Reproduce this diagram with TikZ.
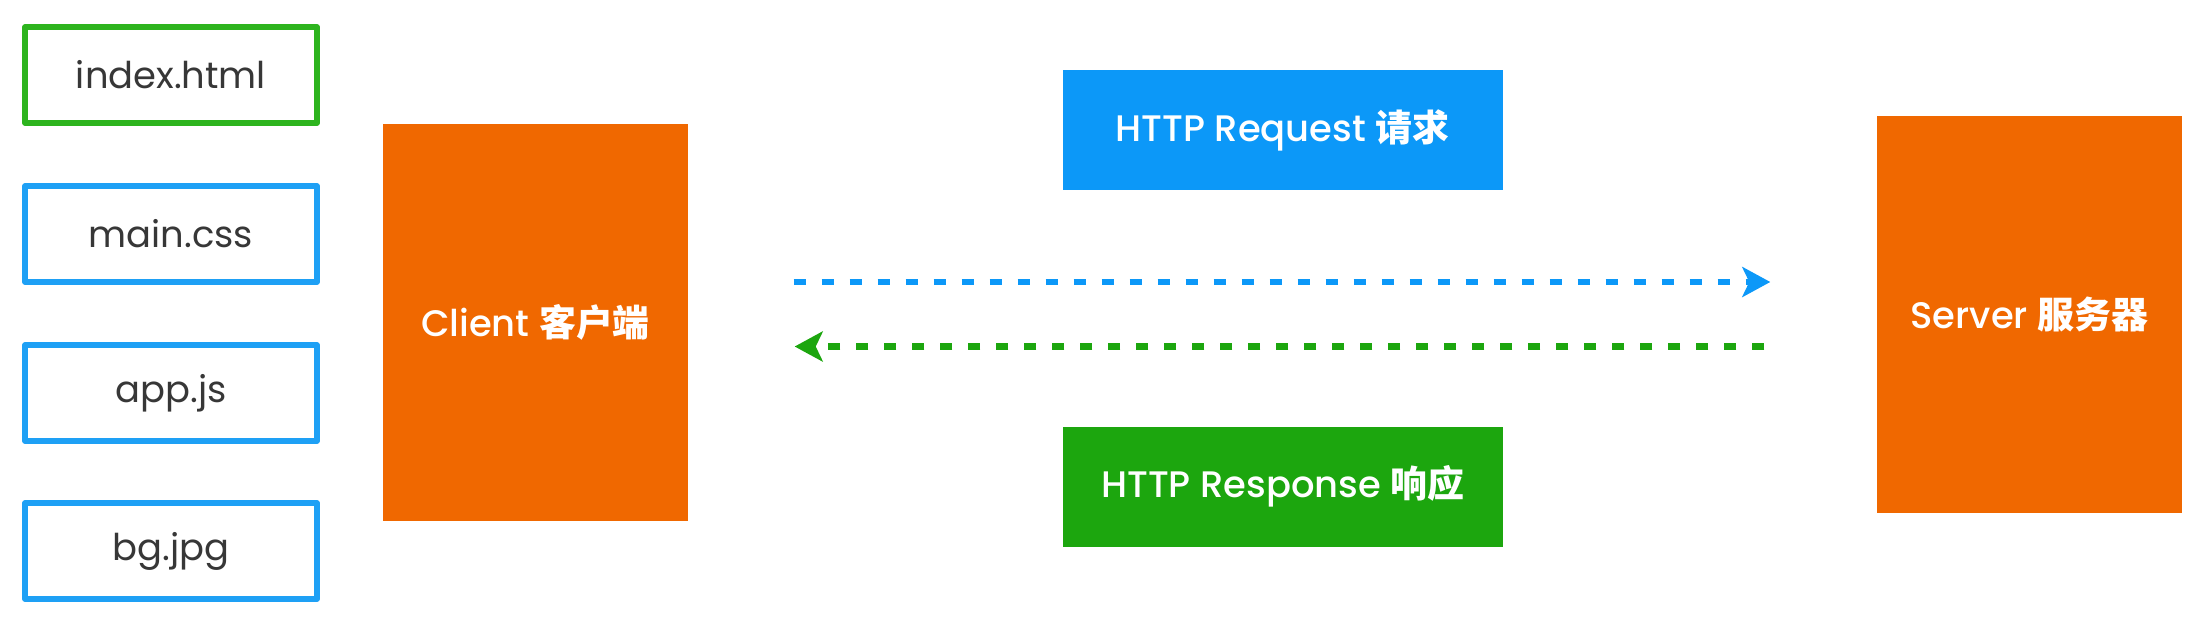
\documentclass[tikz,border=0pt]{standalone}
\usepackage{fontspec}
\setmainfont{Poppins}
\newfontfamily\popmed{Poppins Medium}
\newfontfamily\cjk{Noto Sans CJK SC}
\usetikzlibrary{arrows.meta}
\definecolor{hostorange}{RGB}{240,104,0}
\definecolor{reqblue}{RGB}{12,152,248}
\definecolor{resgreen}{RGB}{28,166,14}
\definecolor{filegreen}{RGB}{45,180,30}
\definecolor{fileblue}{RGB}{30,160,245}
\definecolor{textgray}{RGB}{55,55,55}
\begin{document}
\begin{tikzpicture}[
filebox/.style={draw=#1, line width=1.6pt, line join=round, fill=white, inner sep=0pt,
  minimum width=2.92cm, minimum height=0.96cm, text=textgray, font=\fontsize{10.5}{12}\selectfont},
hostbox/.style={fill=hostorange, inner sep=0pt, minimum width=3.05cm, minimum height=3.97cm,
  text=white, font=\popmed\fontsize{10.5}{12}\selectfont},
msgbox/.style={fill=#1, inner sep=0pt, minimum width=4.40cm, minimum height=1.20cm,
  text=white, font=\popmed\fontsize{10.5}{12}\selectfont},
flow/.style={draw=#1, line width=1.8pt, dash pattern=on 1.2mm off 1.6mm,
  -{Stealth[length=2.8mm,width=3mm,inset=0.7mm]}}]
\useasboundingbox (0,0) rectangle (22.1,6.34);
\foreach \name/\txt/\y/\col in {index/index.html/5.59/filegreen, css/main.css/4.00/fileblue,
  js/app.js/2.41/fileblue, jpg/bg.jpg/0.83/fileblue} {
\node[filebox=\col] (\name) at (1.71,\y) {\txt};}
\node[hostbox] (client) at (5.355,3.115) {Client {\cjk\bfseries 客户端}};
\node[hostbox] (server) at (20.295,3.195) {Server {\cjk\bfseries 服务器}};
\node[msgbox=reqblue] (request) at (12.825,5.04) {HTTP Request {\cjk\bfseries 请求}};
\node[msgbox=resgreen] (response) at (12.83,1.475) {HTTP Response {\cjk\bfseries 响应}};
\draw[flow=reqblue, shorten <=1.05cm, shorten >=1.06cm]
  ([yshift=4.05mm]client.east) -- ([yshift=4.05mm]client.east -| server.west);
\draw[flow=resgreen, shorten <=1.12cm, shorten >=1.06cm]
  ([yshift=-2.4mm]client.east -| server.west) -- ([yshift=-2.4mm]client.east);
\end{tikzpicture}
\end{document}
